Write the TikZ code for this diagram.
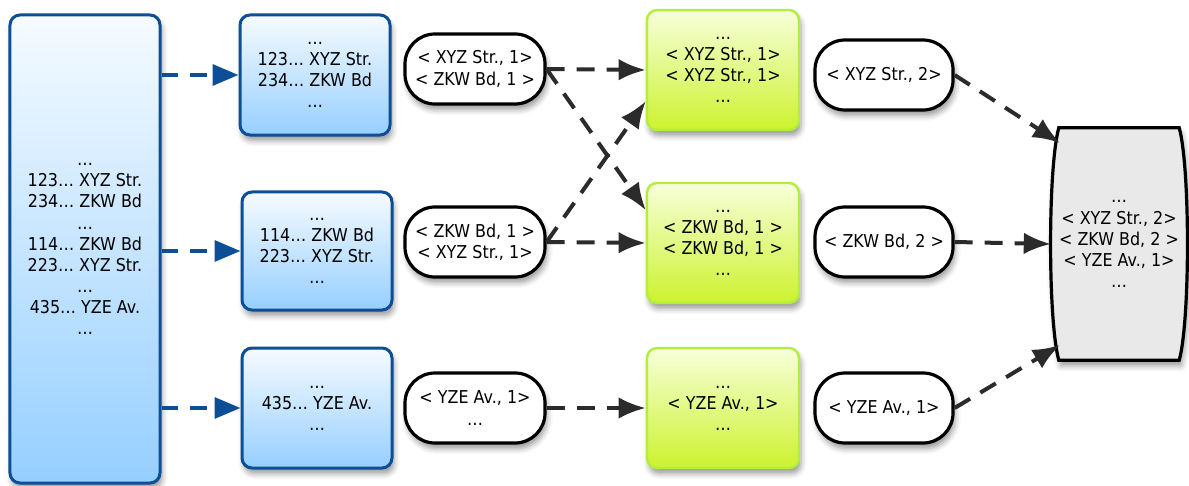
\documentclass[tikz,border=0pt]{standalone}
\usepackage{fontspec}
\setmainfont{DejaVu Sans}[FakeStretch=0.9]
\usetikzlibrary{arrows.meta,shadows,shadows.blur,backgrounds,calc}

\definecolor{splitline}{HTML}{0D4F96}
\definecolor{splittop}{HTML}{F6FBFF}
\definecolor{splitbot}{HTML}{96CFFF}
\definecolor{redline}{HTML}{AEF03C}
\definecolor{redtop}{HTML}{F7FFDA}
\definecolor{redbot}{HTML}{CDF22E}
\definecolor{flowgray}{HTML}{2B2B2B}
\definecolor{outfill}{HTML}{E9E9E9}

\tikzset{
  txt/.style={align=center,font=\fontsize{12.6}{15}\selectfont,inner sep=0pt},
  lift/.style={blur shadow={shadow xshift=0.5mm,shadow yshift=-1.4mm,shadow blur radius=1.4mm,shadow opacity=40}},
  splitbox/.style={txt,lift,draw=splitline,line width=0.75mm,rounded corners=2.5mm,
    top color=splittop,bottom color=splitbot,minimum width=37.5mm},
  redbox/.style={txt,lift,draw=redline,line width=0.6mm,rounded corners=2.5mm,
    top color=redtop,bottom color=redbot,minimum width=38mm,minimum height=30mm},
  pairbox/.style={txt,lift,draw=black,line width=0.8mm,fill=white,rounded corners=7.5mm,
    minimum height=17.5mm},
  feed/.style={splitline,line width=1mm,dash pattern=on 4.2mm off 3mm,
    -{Triangle[length=6.5mm,width=5.2mm]}},
  flow/.style={flowgray,line width=1mm,dash pattern=on 4.5mm off 3mm,
    -{Latex[length=6.8mm,width=5.4mm]}}
}

\begin{document}
\begin{tikzpicture}[x=0.25mm,y=-0.25mm]
  \useasboundingbox (0,0) rectangle (1189,486);

  % input and splits
  \node[splitbox,minimum height=117mm] (in) at (85,249)
    {…\\123… XYZ Str.\\234… ZKW Bd\\…\\114… ZKW Bd\\223… XYZ Str.\\…\\435… YZE Av.\\…};
  \node[splitbox,minimum height=30mm] (sp1) at (315,75)
    {…\\123… XYZ Str.\\234… ZKW Bd\\…};
  \node[splitbox,minimum height=29.5mm] (sp2) at (317,251)
    {…\\114… ZKW Bd\\223… XYZ Str.\\…};
  \node[splitbox,minimum height=30mm] (sp3) at (317,408)
    {…\\435… YZE Av.\\…};

  % map output
  \node[pairbox,minimum width=35mm] (mp1) at (475,69) {< XYZ Str., 1>\\< ZKW Bd, 1 >};
  \node[pairbox,minimum width=35mm] (mp2) at (475,242) {< ZKW Bd, 1 >\\< XYZ Str., 1>};
  \node[pairbox,minimum width=35mm] (mp3) at (475,408) {< YZE Av., 1>\\…};

  % reduce input
  \node[redbox] (rd1) at (723,70) {…\\< XYZ Str., 1>\\< XYZ Str., 1>\\…};
  \node[redbox] (rd2) at (723,243) {…\\< ZKW Bd, 1 >\\< ZKW Bd, 1 >\\…};
  \node[redbox] (rd3) at (723,408) {…\\< YZE Av., 1>\\…};

  % reduce output
  \node[pairbox,minimum width=34.5mm] (rs1) at (884,75) {< XYZ Str., 2>};
  \node[pairbox,minimum width=34.5mm] (rs2) at (884,242) {< ZKW Bd, 2 >};
  \node[pairbox,minimum width=34.5mm] (rs3) at (884,408) {< YZE Av., 1>};

  % result
  \node[txt,minimum width=29.5mm,minimum height=58mm] (out) at (1119,244)
    {…\\< XYZ Str., 2>\\< ZKW Bd, 2 >\\< YZE Av., 1>\\…};
  \begin{scope}[on background layer]
    \draw[lift,line width=0.8mm,fill=outfill]
      (out.north west) -- (out.north east)
      .. controls ($(out.north east)+(11,40)$) and ($(out.south east)+(11,-40)$) .. (out.south east)
      -- (out.south west)
      .. controls ($(out.south west)+(-11,-40)$) and ($(out.north west)+(-11,40)$) .. cycle;
  \end{scope}
  \coordinate (o1) at (1060,143);
  \coordinate (o2) at (1051,244);
  \coordinate (o3) at (1060,345);

  \draw[feed] (in.east |- sp1.west) -- (sp1.west);
  \draw[feed] (in.east |- sp2.west) -- (sp2.west);
  \draw[feed] (in.east |- sp3.west) -- (sp3.west);

  \draw[flow] (mp1.east) -- (rd1.west);
  \draw[flow] (mp1.east) -- (rd2.157);
  \draw[flow] (mp2.east) -- (rd1.202);
  \draw[flow] (mp2.east) -- (rd2.west);
  \draw[flow] (mp3.east) -- (rd3.west);

  \draw[flow] (rs1.east) -- (o1);
  \draw[flow] (rs2.east) -- (o2);
  \draw[flow] (rs3.east) -- (o3);
\end{tikzpicture}
\end{document}
